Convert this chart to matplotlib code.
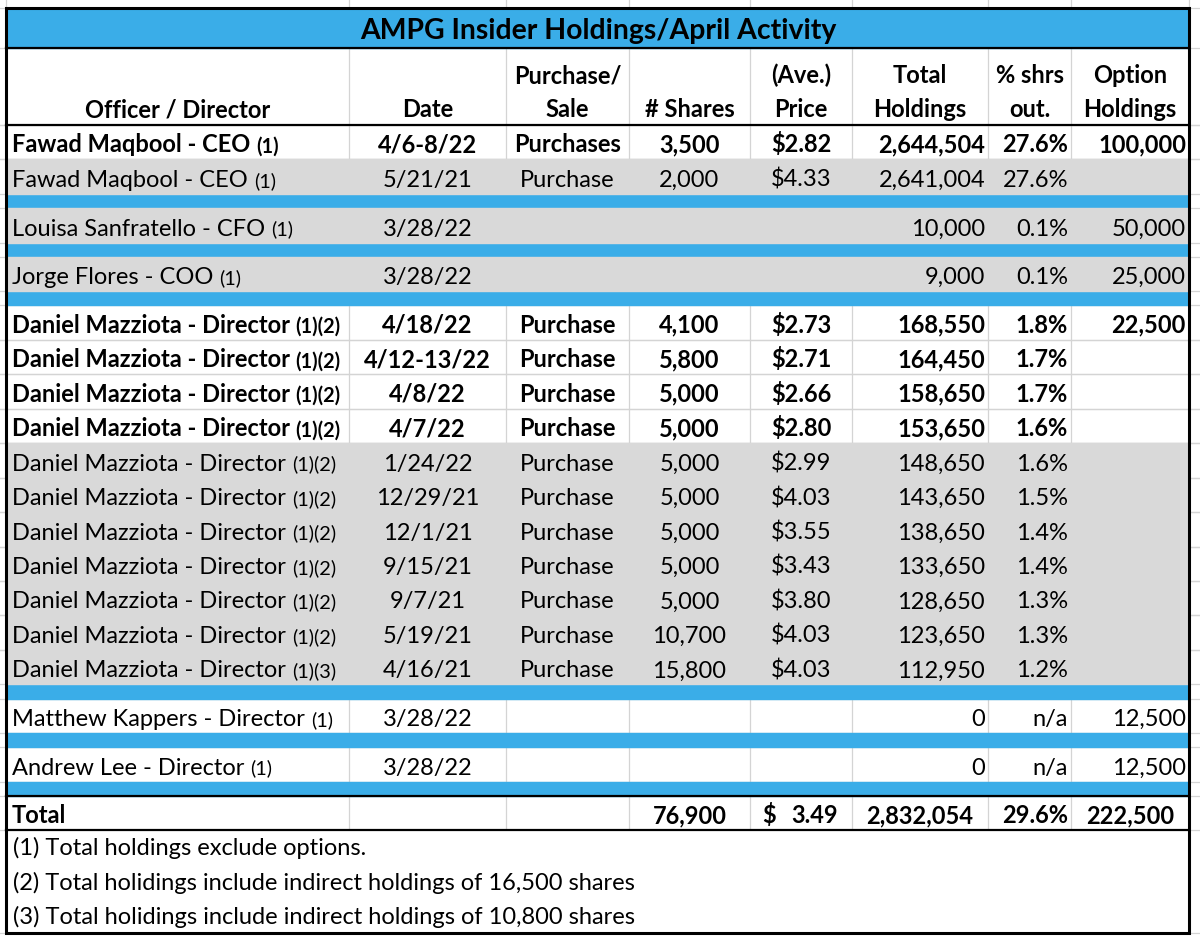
import matplotlib
matplotlib.use("Agg")
import matplotlib.pyplot as plt
from matplotlib.patches import Rectangle

plt.rcParams['font.family'] = ['Lato', 'DejaVu Sans']

# ---- data ----
title = "AMPG Insider Holdings/April Activity"
header_top = ["", "", "Purchase/", "", "(Ave.)", "Total", "% shrs", "Option"]
header_bottom = ["Officer / Director", "Date", "Sale", "# Shares", "Price",
                 "Holdings", "out.", "Holdings"]

names = ["Fawad Maqbool - CEO", "Fawad Maqbool - CEO",
         "Louisa Sanfratello - CFO", "Jorge Flores - COO"] + \
        ["Daniel Mazziota - Director"] * 11 + \
        ["Matthew Kappers - Director", "Andrew Lee - Director"]
notes = ["(1)", "(1)", "(1)", "(1)"] + ["(1)(2)"] * 10 + ["(1)(3)"] + ["(1)", "(1)"]
dates = ["4/6-8/22", "5/21/21", "3/28/22", "3/28/22",
         "4/18/22", "4/12-13/22", "4/8/22", "4/7/22", "1/24/22", "12/29/21",
         "12/1/21", "9/15/21", "9/7/21", "5/19/21", "4/16/21",
         "3/28/22", "3/28/22"]
actions = ["Purchases", "Purchase", "", ""] + ["Purchase"] * 11 + ["", ""]
shares = [3500, 2000, None, None, 4100, 5800, 5000, 5000, 5000, 5000,
          5000, 5000, 5000, 10700, 15800, None, None]
prices = [2.82, 4.33, None, None, 2.73, 2.71, 2.66, 2.80, 2.99, 4.03,
          3.55, 3.43, 3.80, 4.03, 4.03, None, None]
holdings = [2644504, 2641004, 10000, 9000, 168550, 164450, 158650, 153650,
            148650, 143650, 138650, 133650, 128650, 123650, 112950, 0, 0]
pct_out = [27.6, 27.6, 0.1, 0.1, 1.8, 1.7, 1.7, 1.6, 1.6, 1.5, 1.4, 1.4,
           1.3, 1.3, 1.2, None, None]
options = [100000, None, 50000, 25000, 22500, None, None, None, None, None,
           None, None, None, None, None, 12500, 12500]

bold_rows = [0, 4, 5, 6, 7]
grey_rows = [1, 2, 3, 8, 9, 10, 11, 12, 13, 14]
blue_after = [1, 2, 3, 14, 15, 16]

total_shares = 76900
total_price = 3.49
total_holdings = 2832054
total_pct = 29.6
total_options = 222500

footnotes = ["(1) Total holdings exclude options.",
             "(2) Total holidings include indirect holdings of 16,500 shares",
             "(3) Total holidings include indirect holdings of 10,800 shares"]

# ---- layout ----
W, H = 1200, 944
col_edges = [6, 349, 506, 629, 750, 852, 988, 1071, 1189]
title_top, header_top_y, header_bot_y = 8, 48, 125
row_h, sep_h = 34.45, 14.2
foot_h = 103
BLUE = "#3aade8"
GREY = "#d9d9d9"
GRID = "#d4d4d4"
FS = 17.0

fig = plt.figure(figsize=(W / 100, H / 100), dpi=100)
ax = fig.add_axes([0, 0, 1, 1])
ax.set_xlim(0, W)
ax.set_ylim(H, 0)
ax.axis("off")
renderer = fig.canvas.get_renderer()

x0, x1 = col_edges[0], col_edges[-1]

# row positions
row_tops = []
y = header_bot_y
blue_bands = []
for i in range(len(names)):
    row_tops.append(y)
    y += row_h
    if i in blue_after:
        blue_bands.append(y)
        y += sep_h
total_top = y
foot_top = total_top + row_h
foot_bot = foot_top + foot_h

# spreadsheet gridlines
h_lines = [title_top, header_top_y, header_bot_y] + row_tops + \
          [r + row_h for r in row_tops] + [total_top, foot_top, foot_bot]
for hy in h_lines:
    ax.plot([0, W], [hy, hy], color=GRID, lw=0.9, zorder=0)
for cx in col_edges:
    ax.plot([cx, cx], [0, H], color=GRID, lw=0.9, zorder=0)

# fills
ax.add_patch(Rectangle((x0, title_top), x1 - x0, header_top_y - title_top,
                       color=BLUE, zorder=1))
for b in blue_bands:
    ax.add_patch(Rectangle((x0, b), x1 - x0, sep_h, color=BLUE, zorder=1))
for i in grey_rows:
    ax.add_patch(Rectangle((x0, row_tops[i]), x1 - x0, row_h, color=GREY, zorder=1))
ax.add_patch(Rectangle((x0, foot_top), x1 - x0, foot_h, color="white", zorder=1))
ax.add_patch(Rectangle((0, foot_bot + 1.5), W, H - foot_bot, color="white", zorder=1))

# black rules
for hy in [header_top_y, header_bot_y, total_top, foot_top]:
    ax.plot([x0, x1], [hy, hy], color="black", lw=1.6, zorder=3)
ax.add_patch(Rectangle((x0, title_top), x1 - x0, foot_bot - title_top,
                       fill=False, ec="black", lw=2.2, zorder=3))

# title
ax.text(598, header_top_y - 9, title, ha="center", va="baseline",
        fontsize=FS * 1.2, fontweight="bold", zorder=4)

# header
for c in range(8):
    cx = (col_edges[c] + col_edges[c + 1]) / 2
    ax.text(cx, 83, header_top[c], ha="center", va="baseline",
            fontsize=FS, fontweight="bold", zorder=4)
    ax.text(cx, 117, header_bottom[c], ha="center", va="baseline",
            fontsize=FS, fontweight="bold", zorder=4)


def put(col, yb, s, weight, align):
    if align == "left":
        xp, ha = col_edges[col] + 6, "left"
    elif align == "right":
        xp, ha = col_edges[col + 1] - 3, "right"
    else:
        xp, ha = (col_edges[col] + col_edges[col + 1]) / 2, "center"
    return ax.text(xp, yb, s, ha=ha, va="baseline", fontsize=FS,
                   fontweight=weight, zorder=4)


inv = ax.transData.inverted()
for i in range(len(names)):
    yb = row_tops[i] + row_h - 7
    wt = "bold" if i in bold_rows else "normal"
    t = put(0, yb, names[i] + " ", wt, "left")
    bb = t.get_window_extent(renderer)
    xe = inv.transform((bb.x1, bb.y0))[0]
    ax.text(xe, yb, notes[i], ha="left", va="baseline", fontsize=FS * 0.85,
            fontweight=wt, zorder=4)
    put(1, yb, dates[i], wt, "center")
    put(2, yb, actions[i], wt, "center")
    if shares[i] is not None:
        put(3, yb, f"{shares[i]:,}", wt, "center")
    if prices[i] is not None:
        put(4, yb, f"${prices[i]:.2f}", wt, "center")
    put(5, yb, f"{holdings[i]:,}", wt, "right")
    put(6, yb, "n/a" if pct_out[i] is None else f"{pct_out[i]:.1f}%", wt, "right")
    if options[i] is not None:
        put(7, yb, f"{options[i]:,}", wt, "right")

# total row
yb = total_top + row_h - 7
put(0, yb, "Total", "bold", "left")
put(3, yb, f"{total_shares:,}", "bold", "center")
ax.text(col_edges[4] + 12, yb, "$", ha="left", va="baseline", fontsize=FS,
        fontweight="bold", zorder=4)
ax.text(col_edges[5] - 14, yb, f"{total_price:.2f}", ha="right", va="baseline",
        fontsize=FS, fontweight="bold", zorder=4)
ax.text(col_edges[6] - 15, yb, f"{total_holdings:,}", ha="right", va="baseline",
        fontsize=FS, fontweight="bold", zorder=4)
put(6, yb, f"{total_pct:.1f}%", "bold", "right")
ax.text(col_edges[8] - 15, yb, f"{total_options:,}", ha="right", va="baseline",
        fontsize=FS, fontweight="bold", zorder=4)

# footnotes
for k, note in enumerate(footnotes):
    ax.text(x0 + 7, foot_top + 25 + k * 34.5, note, ha="left", va="baseline",
            fontsize=FS, zorder=4)

fig.savefig("out.png", dpi=100)
